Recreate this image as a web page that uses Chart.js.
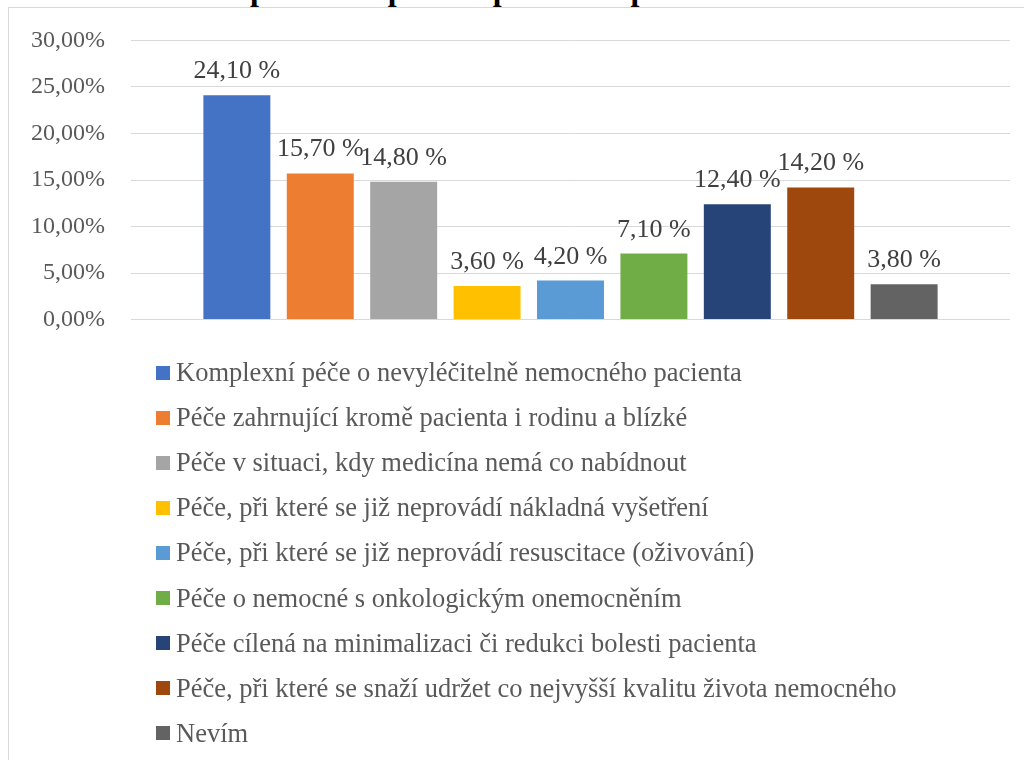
<!DOCTYPE html>
<html lang="cs">
<head>
<meta charset="UTF-8">
<title>Graf 8</title>
<script src="https://cdn.jsdelivr.net/npm/chart.js@4.4.1/dist/chart.umd.min.js"></script>
<style>
    html, body {
        margin: 0;
        padding: 0;
        background: #ffffff;
        width: 1024px;
        height: 760px;
        overflow: hidden;
        position: relative;
        font-family: "Liberation Serif", "Times New Roman", serif;
    }
    #chartTitle {
        position: absolute;
        left: 15px;
        top: -27px;
        font-size: 32px;
        line-height: 32px;
        font-weight: bold;
        color: #000000;
        white-space: nowrap;
    }
    #chartFrame {
        position: absolute;
        left: 8px;
        top: 7px;
        width: 1030px;
        height: 770px;
        border: 1px solid #d9d9d9;
        background: #ffffff;
    }
    /* the y axis adds ~40px above and below the plot by itself */
    #chartBox {
        position: absolute;
        left: 9px;
        top: 0;
        width: 1015px;
        height: 360px;
    }
    #legendBox {
        position: absolute;
        left: 156px;
        top: 350px;
    }
    .legend-item {
        display: flex;
        align-items: center;
        height: 45.1px;
        font-size: 26.5px;
        color: #595959;
        white-space: nowrap;
    }
    .legend-swatch {
        display: inline-block;
        width: 14px;
        height: 14px;
        margin-right: 6px;
        flex: none;
    }
</style>
</head>
<body>
<div id="chartTitle">Graf 8: Vnímání paliativní péče – správné odpovědi</div>
<div id="chartFrame"></div>
<div id="chartBox"><canvas id="careChart"></canvas></div>
<div id="legendBox"></div>

<script>
// Answers (one series each, all in a single category)
const answers = [
    'Komplexní péče o nevyléčitelně nemocného pacienta',
    'Péče zahrnující kromě pacienta i rodinu a blízké',
    'Péče v situaci, kdy medicína nemá co nabídnout',
    'Péče, při které se již neprovádí nákladná vyšetření',
    'Péče, při které se již neprovádí resuscitace (oživování)',
    'Péče o nemocné s onkologickým onemocněním',
    'Péče cílená na minimalizaci či redukci bolesti pacienta',
    'Péče, při které se snaží udržet co nejvyšší kvalitu života nemocného',
    'Nevím'
];

// Share of respondents in %
const shares = [24.1, 15.7, 14.8, 3.6, 4.2, 7.1, 12.4, 14.2, 3.8];

const barColors = ['#4472C4', '#ED7D31', '#A5A5A5', '#FFC000', '#5B9BD5', '#70AD47', '#264478', '#9E480E', '#636363'];

// Y axis ticks
const yTicks = [0, 5, 10, 15, 20, 25, 30];

function formatPercent(value, withSpace) {
    return value.toFixed(2).replace('.', ',') + (withSpace ? ' %' : '%');
}

// Value labels above each bar
const barLabels = {
    id: 'barLabels',
    afterDatasetsDraw(chart) {
        const ctx = chart.ctx;
        ctx.save();
        ctx.font = '26px "Liberation Serif", "Times New Roman", serif';
        ctx.fillStyle = '#404040';
        ctx.textAlign = 'center';
        ctx.textBaseline = 'alphabetic';
        chart.data.datasets.forEach((ds, i) => {
            const meta = chart.getDatasetMeta(i);
            meta.data.forEach((bar, j) => {
                ctx.fillText(formatPercent(ds.data[j], true), bar.x, bar.y - 17);
            });
        });
        ctx.restore();
    }
};

function buildChart() {
    const ctx = document.getElementById('careChart');

    const datasets = answers.map((name, i) => ({
        label: name,
        data: [shares[i]],
        backgroundColor: barColors[i],
        borderWidth: 0,
        categoryPercentage: 0.854,
        barPercentage: 0.803
    }));

    const chart = new Chart(ctx, {
        type: 'bar',
        data: {
            labels: [''],
            datasets: datasets
        },
        options: {
            responsive: true,
            maintainAspectRatio: false,
            animation: false,
            layout: {
                padding: { top: 0, right: 14, bottom: 0, left: 0 }
            },
            plugins: {
                legend: { display: false },
                tooltip: { enabled: false },
                title: { display: false }
            },
            scales: {
                x: {
                    display: false,
                    grid: { display: false }
                },
                y: {
                    min: yTicks[0],
                    max: yTicks[yTicks.length - 1],
                    afterBuildTicks: (scale) => {
                        scale.ticks = yTicks.map(v => ({ value: v }));
                    },
                    afterFit: (scale) => {
                        scale.width = 122;
                    },
                    border: { display: false },
                    grid: {
                        color: '#d9d9d9',
                        lineWidth: 1,
                        drawTicks: false
                    },
                    ticks: {
                        padding: 26,
                        color: '#595959',
                        font: { family: '"Liberation Serif", "Times New Roman", serif', size: 24 },
                        callback: (value) => formatPercent(value, false)
                    }
                }
            }
        },
        plugins: [barLabels]
    });

    buildLegend(chart);
}

// Vertical legend under the chart, built from the chart datasets
function buildLegend(chart) {
    const box = document.getElementById('legendBox');
    chart.data.datasets.forEach(ds => {
        const item = document.createElement('div');
        item.className = 'legend-item';
        const swatch = document.createElement('span');
        swatch.className = 'legend-swatch';
        swatch.style.background = ds.backgroundColor;
        const text = document.createElement('span');
        text.textContent = ds.label;
        item.appendChild(swatch);
        item.appendChild(text);
        box.appendChild(item);
    });
}

document.addEventListener('DOMContentLoaded', buildChart);
</script>
</body>
</html>
